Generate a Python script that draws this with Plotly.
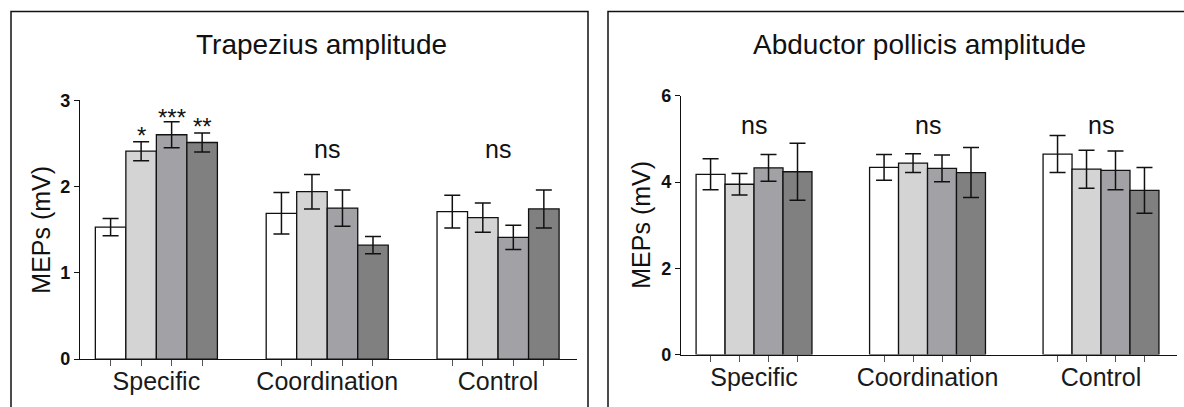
import plotly.graph_objects as go

# ---------------- data ----------------
categories = ["Specific", "Coordination", "Control"]
series_names = ["Condition 1", "Condition 2", "Condition 3", "Condition 4"]
series_colors = ["#ffffff", "#d4d4d4", "#a2a2a6", "#808080"]

# Trapezius amplitude (mV): one list per series, values per category
trap_s1 = [1.53, 1.69, 1.71]
trap_s2 = [2.41, 1.94, 1.64]
trap_s3 = [2.60, 1.75, 1.41]
trap_s4 = [2.51, 1.32, 1.74]
trap_e1 = [0.10, 0.24, 0.19]
trap_e2 = [0.11, 0.20, 0.17]
trap_e3 = [0.15, 0.21, 0.14]
trap_e4 = [0.11, 0.10, 0.22]

# Abductor pollicis amplitude (mV)
abd_s1 = [4.18, 4.34, 4.65]
abd_s2 = [3.95, 4.44, 4.30]
abd_s3 = [4.33, 4.32, 4.27]
abd_s4 = [4.24, 4.22, 3.81]
abd_e1 = [0.36, 0.30, 0.43]
abd_e2 = [0.25, 0.22, 0.44]
abd_e3 = [0.31, 0.31, 0.45]
abd_e4 = [0.66, 0.58, 0.53]

trap_stars = ["", "*", "***", "**"]          # over Specific bars
trap_star_y = [None, 2.59, 2.80, 2.69]
trap_ns = ["", "ns", "ns"]
trap_ns_y = 2.43
abd_ns = ["ns", "ns", "ns"]
abd_ns_y = 5.32

# ---------------- layout helpers ----------------
W, H = 1184, 407
# observed vertical mapping of the photographed page: y_obs = 0.957*y_fig + 7.9
VS, VO = 0.957, 7.9
def px(x):
    return x / W
def py(y):
    return 1 - ((y - VO) / VS) / H

FONT = "Liberation Sans, Arial, sans-serif"
fig = go.Figure()

panels = [
    dict(xa="x", ya="y", means=[trap_s1, trap_s2, trap_s3, trap_s4],
         errs=[trap_e1, trap_e2, trap_e3, trap_e4], w=0.1786),
    dict(xa="x2", ya="y2", means=[abd_s1, abd_s2, abd_s3, abd_s4],
         errs=[abd_e1, abd_e2, abd_e3, abd_e4], w=0.167),
]

for p in panels:
    w = p["w"]
    for j in range(4):
        fig.add_trace(go.Bar(
            x=list(range(len(categories))), y=p["means"][j], name=series_names[j],
            width=w, offset=(j - 2) * w,
            marker=dict(color=series_colors[j], line=dict(color="#111111", width=1.3)),
            error_y=dict(type="data", array=p["errs"][j], color="#111111",
                         thickness=1.5, width=8),
            xaxis=p["xa"], yaxis=p["ya"], showlegend=False,
        ))

def bar_centers(w):
    return [g + (j - 1.5) * w for g in range(len(categories)) for j in range(4)]

xcommon = dict(showline=True, linecolor="#111111", linewidth=1.3, showgrid=False,
               zeroline=False, ticks="", tickmode="array",
               tickvals=list(range(len(categories))), ticktext=categories,
               tickfont=dict(family=FONT, size=25, color="#1a1a1a"))
ycommon = dict(showline=True, linecolor="#111111", linewidth=1.2, showgrid=False,
               zeroline=False, ticks="outside", ticklen=5, tickcolor="#111111",
               tickfont=dict(family=FONT, size=18, color="#111111", weight="bold"))

fig.update_layout(
    width=W, height=H, margin=dict(l=0, r=0, t=0, b=0),
    paper_bgcolor="white", plot_bgcolor="white", barmode="overlay",
    xaxis=dict(domain=[px(80), px(577)], range=[-0.447, 2.462], anchor="y",
               minor=dict(tickmode="array", tickvals=bar_centers(0.1786), ticks="outside",
                          ticklen=6, tickcolor="#555555", tickwidth=1.2),
               **xcommon),
    yaxis=dict(domain=[py(359.3), py(98.7)], range=[0, 3], anchor="x",
               tickvals=[0, 1, 2, 3], **ycommon),
    xaxis2=dict(domain=[px(681), px(1177)], range=[-0.421, 2.438], anchor="y2",
                minor=dict(tickmode="array", tickvals=bar_centers(0.167), ticks="outside",
                           ticklen=6, tickcolor="#555555", tickwidth=1.2),
                **xcommon),
    yaxis2=dict(domain=[py(354.7), py(94.3)], range=[0, 6], anchor="x2",
                tickvals=[0, 2, 4, 6], **ycommon),
)

ann = []
def a(**kw):
    kw.setdefault("xanchor", "center")
    kw.setdefault("yanchor", "middle")
    kw.setdefault("showarrow", False)
    ann.append(kw)

# titles
a(text="Trapezius amplitude", x=px(321), y=py(43), xref="paper", yref="paper",
  font=dict(family=FONT, size=28, color="#111111"))
a(text="Abductor pollicis amplitude", x=px(920), y=py(43), xref="paper", yref="paper",
  font=dict(family=FONT, size=28, color="#111111"))
# y titles
a(text="MEPs (mV)", x=px(41), y=py(229), xref="paper", yref="paper", textangle=-90,
  font=dict(family=FONT, size=25, color="#111111"))
a(text="MEPs (mV)", x=px(641), y=py(224), xref="paper", yref="paper", textangle=-90,
  font=dict(family=FONT, size=25, color="#111111"))
# significance marks
for j, s in enumerate(trap_stars):
    if s:
        a(text=s, x=(j - 1.5) * 0.1786, y=trap_star_y[j], xref="x", yref="y",
          font=dict(family=FONT, size=24, color="#111111"))
for g, s in enumerate(trap_ns):
    if s:
        a(text=s, x=g, y=trap_ns_y, xref="x", yref="y",
          font=dict(family=FONT, size=25, color="#111111"))
for g, s in enumerate(abd_ns):
    a(text=s, x=g, y=abd_ns_y, xref="x2", yref="y2",
      font=dict(family=FONT, size=25, color="#111111"))
fig.update_layout(annotations=ann)

# panel frames
fig.add_shape(type="rect", xref="paper", yref="paper", x0=px(11), x1=px(588),
              y0=-0.05, y1=py(9.5), line=dict(color="#111111", width=1.5))
fig.add_shape(type="rect", xref="paper", yref="paper", x0=px(608), x1=1.05,
              y0=-0.05, y1=py(9.5), line=dict(color="#111111", width=1.5))

fig.write_html("out.html", config={"displayModeBar": False},
               post_script="document.body.style.margin='0';document.body.style.overflow='hidden';")
